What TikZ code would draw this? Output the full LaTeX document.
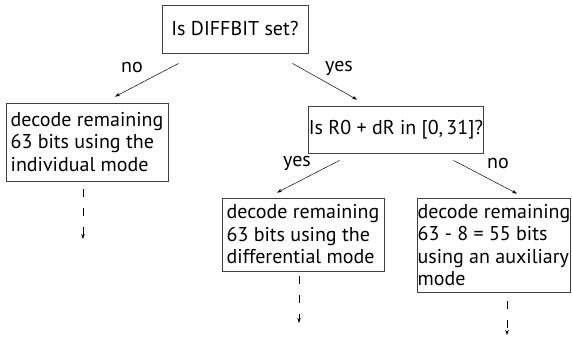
\documentclass[tikz,border=0pt]{standalone}
\usepackage{fontspec}
\setmainfont{PT Sans}
\usetikzlibrary{arrows.meta}
\tikzset{
  pin/.style={-{Stealth[length=5pt,width=3.5pt]}, line width=0.5pt},
  dpin/.style={pin, dash pattern=on 8pt off 11pt},
  box/.style={draw=black!75, line width=0.8pt, align=left, inner sep=0pt},
  lbl/.style={inner sep=0pt}
}

\begin{document}
\begin{tikzpicture}[font=\fontsize{20}{22.5}\selectfont, x=1pt, y=-1pt]
  \useasboundingbox (0,0) rectangle (572,342);
  % questions
  \node[box, minimum width=146pt, minimum height=48pt] (dq) at (235,29) {Is DIFFBIT set?};
  \node[box, minimum width=174pt, minimum height=47pt] (rq) at (396,129.5) {Is R0 + dR in [0,\,31]?};
  % decode boxes
  \node[box, minimum width=162pt, minimum height=78pt] (indiv) at (87,142) {decode remaining\\63 bits using the\\individual mode};
  \node[box, minimum width=162pt, minimum height=73pt] (diff) at (303,234.5) {decode remaining\\63 bits using the\\differential mode};
  \node[box, minimum width=150pt, minimum height=94pt] (aux) at (494,245) {decode remaining\\63 - 8 = 55 bits\\using an auxiliary\\mode};
  % branches
  \draw[pin] ([shift={(17,10)}]dq.south west) -- ([shift={(28,-6)}]indiv.north);
  \draw[pin] ([shift={(-16,10)}]dq.south east) -- ([shift={(-39,-6)}]rq.north);
  \draw[pin] ([shift={(31,7)}]rq.south west) -- ([shift={(-26,-5)}]diff.north);
  \draw[pin] ([shift={(-30,7)}]rq.south east) -- ([shift={(23,-4)}]aux.north);
  \node[lbl] (no1) at (132,68) {no};
  \node[lbl] (yes1) at (339,68) {yes};
  \node[lbl] (yes2) at (297,163) {yes};
  \node[lbl] (no2) at (498,163) {no};
  % continuations
  \coordinate (indivend) at (83,239);
  \coordinate (diffend) at (299,323);
  \coordinate (auxend) at (507,335);
  \draw[dpin] ([shift={(-4,8)}]indiv.south) -- (indivend);
  \draw[dpin] ([shift={(-4,5)}]diff.south) -- (diffend);
  \draw[dpin] ([shift={(13,9)}]aux.south) -- (auxend);
\end{tikzpicture}
\end{document}
